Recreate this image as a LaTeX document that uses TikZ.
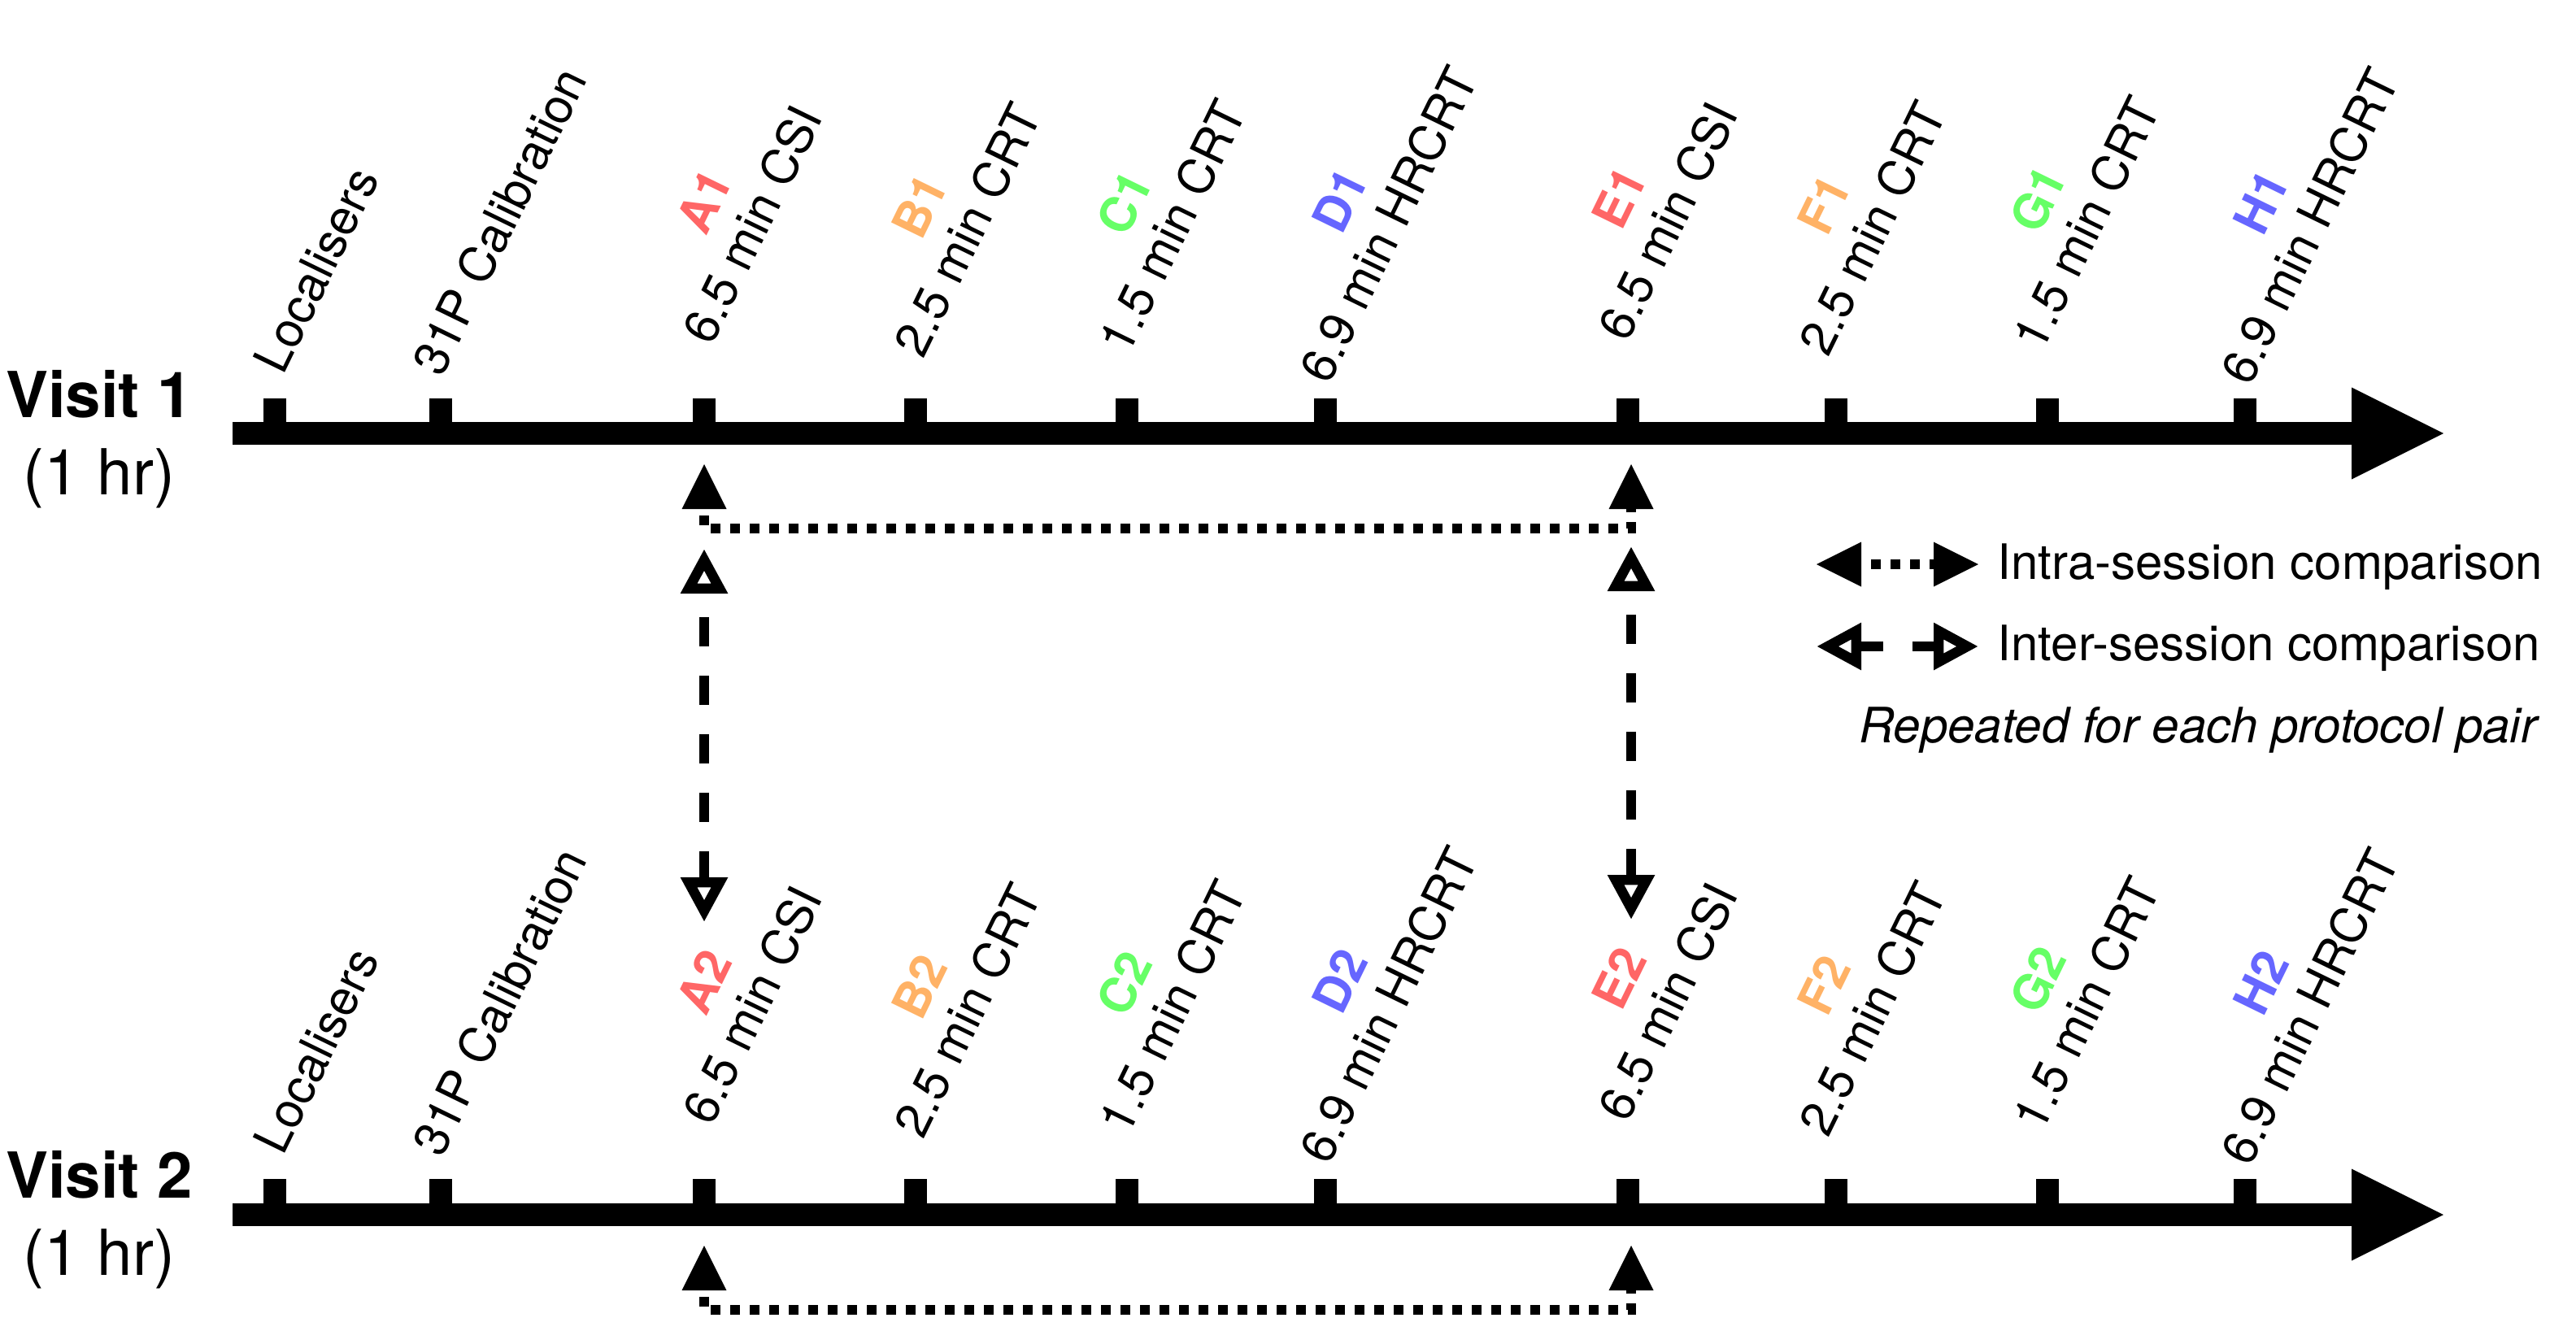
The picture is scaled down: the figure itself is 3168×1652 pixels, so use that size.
\documentclass[tikz,border=0pt]{standalone}
\usepackage{fontspec}
\setmainfont{TeX Gyre Heros}
\usetikzlibrary{arrows.meta}

\definecolor{protA}{RGB}{255,102,102}
\definecolor{protB}{RGB}{255,178,102}
\definecolor{protC}{RGB}{102,255,102}
\definecolor{protD}{RGB}{102,102,255}

\begin{document}
\begin{tikzpicture}[x=0.25pt,y=0.25pt,yscale=-1,xscale=1,
  timeline/.style={line width=7pt,-{Triangle[length=28.25pt,width=28.25pt,line width=0pt]}},
  tickmark/.style={fill=black,inner sep=0pt,minimum width=7pt,minimum height=7.5pt},
  scanlabel/.style={rotate=64,anchor=south west,inner sep=0pt,align=center,font=\fontsize{15}{16.5}\selectfont},
  visitlabel/.style={align=center,inner sep=0pt,font=\fontsize{19.5}{23.75}\selectfont},
  legendtext/.style={anchor=base west,inner sep=0pt,font=\fontsize{15}{18}\selectfont},
  intra/.style={line width=2.9pt,dash pattern=on 3pt off 3pt,
    {Triangle[length=13.75pt,width=13.75pt,line width=0pt]}-{Triangle[length=13.75pt,width=13.75pt,line width=0pt]}},
  inter/.style={line width=3.1pt,dash pattern=on 9pt off 9pt,
    {Triangle[open,length=13.75pt,width=13.75pt]}-{Triangle[open,length=13.75pt,width=13.75pt]}}
]
\useasboundingbox (0,0) rectangle (3168,1652);

%Visit 1 -------------------------------------------------------
\coordinate (v1start) at (286,533);
\coordinate (v1end) at (3005,533);
\draw [timeline] (v1start) -- (v1end);

% Ticks
\node [tickmark] (v1loc) at (338,505) {};
\node [tickmark] (v1cal) at (542,505) {};
\node [tickmark] (v1a) at (866,505) {};
\node [tickmark] (v1b) at (1126,505) {};
\node [tickmark] (v1c) at (1386,505) {};
\node [tickmark] (v1d) at (1630,505) {};
\node [tickmark] (v1e) at (2002,505) {};
\node [tickmark] (v1f) at (2258,505) {};
\node [tickmark] (v1g) at (2518,505) {};
\node [tickmark] (v1h) at (2761,505) {};

% Text Node
\node [visitlabel] (visit1) at (122,540) {\textbf{Visit 1}\\(1 hr)};
% Text Node
\node [scanlabel] (v1loctext) at (350,464) {Localisers};
\node [scanlabel] (v1caltext) at (545,467) {31P Calibration};
\node [scanlabel] (v1atext) at (877,428) {\textbf{\color{protA}A1}\\6.5 min CSI};
\node [scanlabel] (v1btext) at (1137,444) {\textbf{\color{protB}B1}\\2.5 min CRT};
\node [scanlabel] (v1ctext) at (1389,440) {\textbf{\color{protC}C1}\\1.5 min CRT};
\node [scanlabel] (v1dtext) at (1636,476) {\textbf{\color{protD}D1}\\6.9 min HRCRT};
\node [scanlabel] (v1etext) at (2003,424) {\textbf{\color{protA}E1}\\6.5 min CSI};
\node [scanlabel] (v1ftext) at (2250,442) {\textbf{\color{protB}F1}\\2.5 min CRT};
\node [scanlabel] (v1gtext) at (2513,436) {\textbf{\color{protC}G1}\\1.5 min CRT};
\node [scanlabel] (v1htext) at (2769,478) {\textbf{\color{protD}H1}\\6.9 min HRCRT};

%Visit 2 -------------------------------------------------------
\coordinate (v2start) at (286,1494);
\coordinate (v2end) at (3005,1494);
\draw [timeline] (v2start) -- (v2end);

% Ticks
\node [tickmark] (v2loc) at (338,1465) {};
\node [tickmark] (v2cal) at (542,1465) {};
\node [tickmark] (v2a) at (866,1465) {};
\node [tickmark] (v2b) at (1126,1465) {};
\node [tickmark] (v2c) at (1386,1465) {};
\node [tickmark] (v2d) at (1630,1465) {};
\node [tickmark] (v2e) at (2002,1465) {};
\node [tickmark] (v2f) at (2258,1465) {};
\node [tickmark] (v2g) at (2518,1465) {};
\node [tickmark] (v2h) at (2761,1465) {};

% Text Node
\node [visitlabel] (visit2) at (122,1500) {\textbf{Visit 2}\\(1 hr)};
% Text Node
\node [scanlabel] (v2loctext) at (350,1424) {Localisers};
\node [scanlabel] (v2caltext) at (545,1427) {31P Calibration};
\node [scanlabel] (v2atext) at (877,1388) {\textbf{\color{protA}A2}\\6.5 min CSI};
\node [scanlabel] (v2btext) at (1137,1404) {\textbf{\color{protB}B2}\\2.5 min CRT};
\node [scanlabel] (v2ctext) at (1389,1400) {\textbf{\color{protC}C2}\\1.5 min CRT};
\node [scanlabel] (v2dtext) at (1636,1436) {\textbf{\color{protD}D2}\\6.9 min HRCRT};
\node [scanlabel] (v2etext) at (2003,1384) {\textbf{\color{protA}E2}\\6.5 min CSI};
\node [scanlabel] (v2ftext) at (2250,1402) {\textbf{\color{protB}F2}\\2.5 min CRT};
\node [scanlabel] (v2gtext) at (2513,1396) {\textbf{\color{protC}G2}\\1.5 min CRT};
\node [scanlabel] (v2htext) at (2769,1438) {\textbf{\color{protD}H2}\\6.9 min HRCRT};

%Comparisons ---------------------------------------------------
\coordinate (v1atip) at (866,571);
\coordinate (v1abend) at (866,650);
\coordinate (v1ebend) at (2006,650);
\coordinate (v1etip) at (2006,571);
\draw [intra,dash phase=4pt] (v1atip) -- (v1abend) -- (v1ebend) -- (v1etip);

\coordinate (v2atip) at (866,1532);
\coordinate (v2abend) at (866,1611);
\coordinate (v2ebend) at (2006,1611);
\coordinate (v2etip) at (2006,1532);
\draw [intra,dash phase=4pt] (v2atip) -- (v2abend) -- (v2ebend) -- (v2etip);

\coordinate (atop) at (866,675);
\coordinate (abottom) at (866,1134);
\draw [inter,dash phase=10pt] (atop) -- (abottom);
\coordinate (etop) at (2006,672);
\coordinate (ebottom) at (2006,1131);
\draw [inter,dash phase=10pt] (etop) -- (ebottom);

%Legend --------------------------------------------------------
\coordinate (intraleft) at (2234,694);
\coordinate (intraright) at (2433,694);
\draw [intra,dash phase=3pt] (intraleft) -- (intraright);
\coordinate (interleft) at (2234,795);
\coordinate (interright) at (2433,795);
\draw [inter,dash phase=1.5pt] (interleft) -- (interright);

% Text Node
\node [legendtext] (intratext) at (2456,712) {Intra-session comparison};
% Text Node
\node [legendtext] (intertext) at (2456,812) {Inter-session comparison};
% Text Node
\node [legendtext,anchor=base east] (repeattext) at (3121,913) {\itshape Repeated for each protocol pair};

\end{tikzpicture}
\end{document}
